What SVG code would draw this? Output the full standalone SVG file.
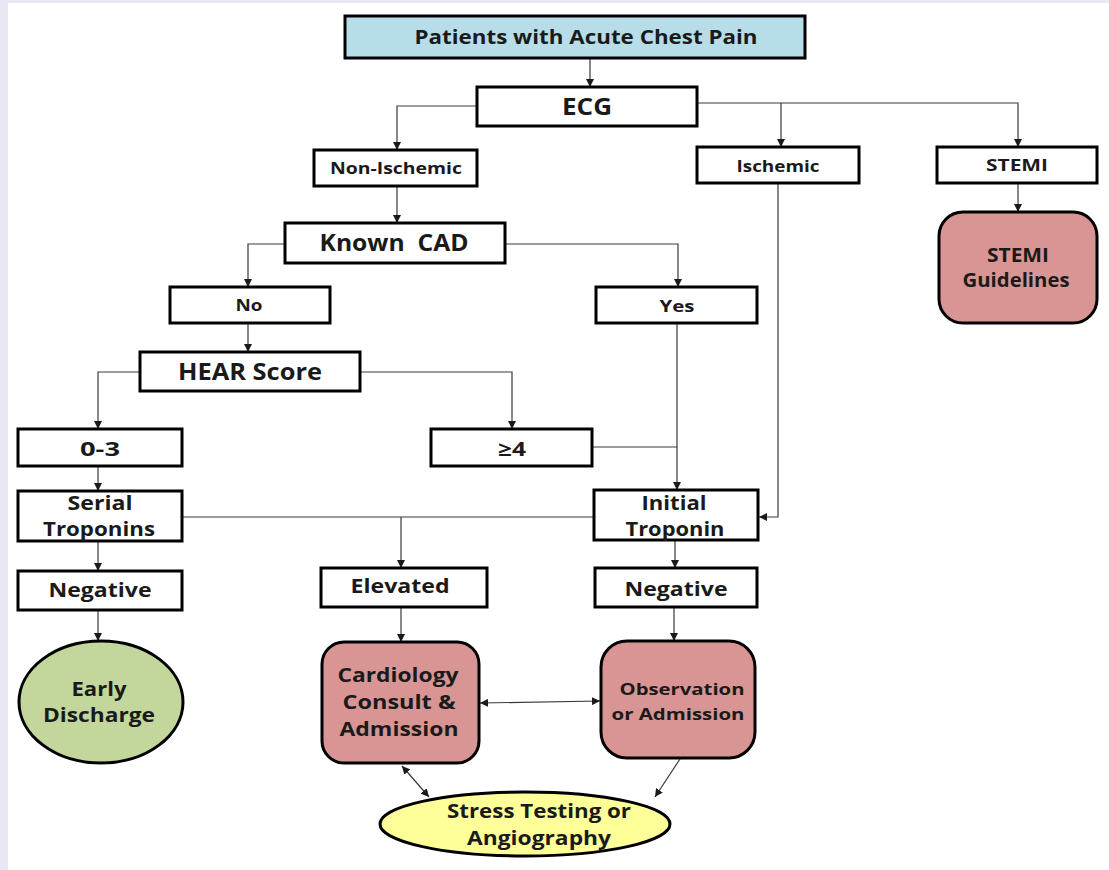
<svg xmlns="http://www.w3.org/2000/svg" width="1109" height="870" viewBox="0 0 1109 870">
  <style>
    .box { fill: #ffffff; stroke: #000000; stroke-width: 3; }
    .title { fill: #b7dee8; stroke: #000000; stroke-width: 3; }
    .red { fill: #d99594; stroke: #000000; stroke-width: 3; }
    .green { fill: #c3d69b; stroke: #000000; stroke-width: 3; }
    .yellow { fill: #ffff99; stroke: #000000; stroke-width: 3; }
    .link { fill: none; stroke: #3a3a3a; stroke-width: 1.2; }
    text { font-family: "Open Sans", "Liberation Sans", sans-serif; font-weight: bold; fill: #1a1a1a; text-anchor: middle; }
    .t15 { font-size: 16px; }
    .t18 { font-size: 19.5px; }
    .t21 { font-size: 23px; }
  </style>
  <defs>
    <marker id="arrow" viewBox="0 0 10 10" refX="10" refY="5" markerWidth="8" markerHeight="8" markerUnits="userSpaceOnUse" orient="auto-start-reverse">
      <path d="M0,0 L10,5 L0,10 z" fill="#1a1a1a"/>
    </marker>
  </defs>

  <!-- page backdrop -->
  <rect x="0" y="0" width="1109" height="870" fill="#ffffff"/>
  <rect x="0" y="0" width="1109" height="3" fill="#e9e7f4"/>
  <rect x="0" y="0" width="8" height="870" fill="#e9e7f4"/>

  <!-- connectors -->
  <g id="connectors">
    <path class="link" d="M590,58 V87" marker-end="url(#arrow)"/>
    <path class="link" d="M477,106 H397 V150" marker-end="url(#arrow)"/>
    <path class="link" d="M697,103 H1018 V147" marker-end="url(#arrow)"/>
    <path class="link" d="M781,103 V147" marker-end="url(#arrow)"/>
    <path class="link" d="M1018,183 V212" marker-end="url(#arrow)"/>
    <path class="link" d="M397,186 V223" marker-end="url(#arrow)"/>
    <path class="link" d="M285,244 H248 V287" marker-end="url(#arrow)"/>
    <path class="link" d="M505,244 H678 V287" marker-end="url(#arrow)"/>
    <path class="link" d="M248,323 V352" marker-end="url(#arrow)"/>
    <path class="link" d="M140,372 H98 V429" marker-end="url(#arrow)"/>
    <path class="link" d="M360,372 H512 V429" marker-end="url(#arrow)"/>
    <path class="link" d="M592,447 H677"/>
    <path class="link" d="M677,323 V490" marker-end="url(#arrow)"/>
    <path class="link" d="M778,183 V517 H759" marker-end="url(#arrow)"/>
    <path class="link" d="M98,466 V491" marker-end="url(#arrow)"/>
    <path class="link" d="M182,517 H594"/>
    <path class="link" d="M401,517 V568" marker-end="url(#arrow)"/>
    <path class="link" d="M98,541 V571" marker-end="url(#arrow)"/>
    <path class="link" d="M675,540 V568" marker-end="url(#arrow)"/>
    <path class="link" d="M98,610 V641" marker-end="url(#arrow)"/>
    <path class="link" d="M401,607 V642" marker-end="url(#arrow)"/>
    <path class="link" d="M674,607 V641" marker-end="url(#arrow)"/>
    <path class="link" d="M480,703 L600,701" marker-start="url(#arrow)" marker-end="url(#arrow)"/>
    <path class="link" d="M402,766 L429,797" marker-start="url(#arrow)" marker-end="url(#arrow)"/>
    <path class="link" d="M680,759 L655,797" marker-end="url(#arrow)"/>
  </g>

  <g id="patients">
    <rect class="title" x="345" y="16" width="460" height="42"/>
    <text class="t18" x="586" y="44" textLength="343" lengthAdjust="spacingAndGlyphs">Patients with Acute Chest Pain</text>
  </g>
  <g id="ecg">
    <rect class="box" x="477" y="87" width="220" height="39"/>
    <text class="t21" x="587" y="115" textLength="50" lengthAdjust="spacingAndGlyphs">ECG</text>
  </g>
  <g id="non-ischemic">
    <rect class="box" x="314" y="150" width="163" height="36"/>
    <text class="t15" x="396" y="174" textLength="132" lengthAdjust="spacingAndGlyphs">Non-Ischemic</text>
  </g>
  <g id="ischemic">
    <rect class="box" x="697" y="147" width="162" height="36"/>
    <text class="t15" x="778" y="172" textLength="83" lengthAdjust="spacingAndGlyphs">Ischemic</text>
  </g>
  <g id="stemi">
    <rect class="box" x="937" y="147" width="160" height="36"/>
    <text class="t15" x="1017" y="171" textLength="62" lengthAdjust="spacingAndGlyphs">STEMI</text>
  </g>
  <g id="stemi-guidelines">
    <rect class="red" x="939" y="212" width="158" height="111" rx="24"/>
    <text class="t18" x="1018" y="262" textLength="62" lengthAdjust="spacingAndGlyphs">STEMI</text>
    <text class="t18" x="1016" y="287" textLength="107" lengthAdjust="spacingAndGlyphs">Guidelines</text>
  </g>
  <g id="known-cad">
    <rect class="box" x="285" y="223" width="220" height="40"/>
    <text class="t21" x="394" y="251" xml:space="preserve" textLength="149" lengthAdjust="spacingAndGlyphs">Known  CAD</text>
  </g>
  <g id="no">
    <rect class="box" x="170" y="287" width="160" height="36"/>
    <text class="t15" x="249" y="311" textLength="27" lengthAdjust="spacingAndGlyphs">No</text>
  </g>
  <g id="yes">
    <rect class="box" x="596" y="287" width="161" height="36"/>
    <text class="t15" x="677" y="312" textLength="35" lengthAdjust="spacingAndGlyphs">Yes</text>
  </g>
  <g id="hear-score">
    <rect class="box" x="140" y="352" width="220" height="39"/>
    <text class="t21" x="250" y="380" textLength="144" lengthAdjust="spacingAndGlyphs">HEAR Score</text>
  </g>
  <g id="score-low">
    <rect class="box" x="18" y="429" width="164" height="37"/>
    <text class="t18" x="100" y="456" textLength="40" lengthAdjust="spacingAndGlyphs">0-3</text>
  </g>
  <g id="score-high">
    <rect class="box" x="431" y="429" width="161" height="37"/>
    <text class="t18" x="512" y="456" textLength="28" lengthAdjust="spacingAndGlyphs">≥4</text>
  </g>
  <g id="serial-troponins">
    <rect class="box" x="18" y="491" width="164" height="50"/>
    <text class="t18" x="100" y="510" textLength="65" lengthAdjust="spacingAndGlyphs">Serial</text>
    <text class="t18" x="99" y="536" textLength="112" lengthAdjust="spacingAndGlyphs">Troponins</text>
  </g>
  <g id="initial-troponin">
    <rect class="box" x="594" y="490" width="164" height="50"/>
    <text class="t18" x="674" y="510" textLength="65" lengthAdjust="spacingAndGlyphs">Initial</text>
    <text class="t18" x="675" y="536" textLength="99" lengthAdjust="spacingAndGlyphs">Troponin</text>
  </g>
  <g id="elevated">
    <rect class="box" x="321" y="568" width="166" height="39"/>
    <text class="t18" x="400" y="593" textLength="99" lengthAdjust="spacingAndGlyphs">Elevated</text>
  </g>
  <g id="negative-serial">
    <rect class="box" x="18" y="571" width="164" height="39"/>
    <text class="t18" x="100" y="597" textLength="103" lengthAdjust="spacingAndGlyphs">Negative</text>
  </g>
  <g id="negative-initial">
    <rect class="box" x="595" y="568" width="162" height="39"/>
    <text class="t18" x="676" y="596" textLength="103" lengthAdjust="spacingAndGlyphs">Negative</text>
  </g>
  <g id="early-discharge">
    <ellipse class="green" cx="101" cy="702" rx="82" ry="61"/>
    <text class="t18" x="99" y="696" textLength="55" lengthAdjust="spacingAndGlyphs">Early</text>
    <text class="t18" x="99" y="722" textLength="112" lengthAdjust="spacingAndGlyphs">Discharge</text>
  </g>
  <g id="cardiology">
    <rect class="red" x="322" y="642" width="157" height="121" rx="22"/>
    <text class="t18" x="398" y="682" textLength="121" lengthAdjust="spacingAndGlyphs">Cardiology</text>
    <text class="t18" x="399" y="709" textLength="113" lengthAdjust="spacingAndGlyphs">Consult &amp;</text>
    <text class="t18" x="399" y="736" textLength="119" lengthAdjust="spacingAndGlyphs">Admission</text>
  </g>
  <g id="observation">
    <rect class="red" x="601" y="641" width="154" height="117" rx="26"/>
    <text class="t15" x="682" y="695" textLength="125" lengthAdjust="spacingAndGlyphs">Observation</text>
    <text class="t15" x="678" y="720" textLength="133" lengthAdjust="spacingAndGlyphs">or Admission</text>
  </g>
  <g id="stress-testing">
    <ellipse class="yellow" cx="525" cy="824" rx="145" ry="32"/>
    <text class="t18" x="539" y="818" textLength="184" lengthAdjust="spacingAndGlyphs">Stress Testing or</text>
    <text class="t18" x="539" y="845" textLength="144" lengthAdjust="spacingAndGlyphs">Angiography</text>
  </g>
</svg>
